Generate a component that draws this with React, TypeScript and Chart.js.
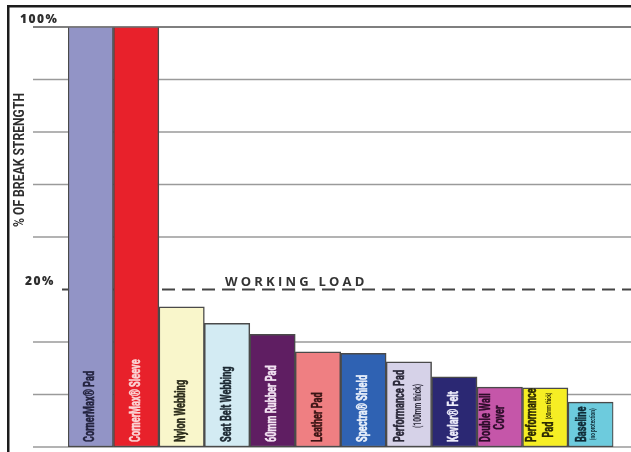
import React, { useEffect, useRef } from "react";
import { Chart, registerables } from "chart.js";

Chart.register(...registerables);

// ---- data ----
const barLabels: string[][] = [
  ["CornerMax® Pad"],
  ["CornerMax® Sleeve"],
  ["Nylon Webbing"],
  ["Seat Belt Webbing"],
  ["60mm Rubber Pad"],
  ["Leather Pad"],
  ["Spectra® Shield"],
  ["Performance Pad", "(100mm thick)"],
  ["Kevlar® Felt"],
  ["Double Wall", "Cover"],
  ["Performance", "Pad (60mm thick)"],
  ["Baseline", "(no protection)"],
];
const categories = barLabels.map((l) => l.join(" "));

// % of break strength (the axis is broken above 20%; 100% bars run to the top)
const breakStrengthPct = [100, 100, 17.8, 15.7, 14.3, 12.1, 11.9, 10.8, 8.9, 7.6, 7.5, 5.7];

// axis: lower part linear (20% at the 3rd line), top line stands for 100%
const gridLevels = [0, 6.667, 13.333, 20, 26.667, 33.333, 40, 46.667, 53.333];
const axisTop = 53.333;
const workingLoadPct = 20;
const tickLabels = [
  { value: 53.333, text: "100%" },
  { value: 20, text: "20%" },
];
const yTitle = "% OF BREAK STRENGTH";
const workingLoadText = "WORKING LOAD";

// ---- styles ----
const barColors = [
  "#9294c6", "#e8212b", "#f9f6cb", "#d3ebf3", "#5f1e62", "#ef7f82",
  "#2f62b3", "#d6d2e8", "#2b2873", "#c556a9", "#f6ee24", "#6dcbdd",
];
const labelColors = [
  "#23233f", "#fbd5d5", "#2b2b1a", "#1d2a33", "#f3e3f3", "#3a1414",
  "#e9f0fb", "#2a2838", "#ecebfa", "#2d0c2a", "#2c2a05", "#0f2a35",
];
const noteFontPx = [9, 9, 9, 9, 9, 9, 9, 10.5, 9, 9, 7, 7.5];
const labelLineGap = [14, 14, 14, 14, 14, 14, 14, 18, 14, 14, 17, 11];
const labelShift = [0, 0, 0, 0, 0, 0, 0, 0, 0, -6, -4, -3];
const LABEL_PX = 14.5;
const LABEL_SX = 0.633;

function segmentsOf(line: string) {
  const idx = line.indexOf("(");
  if (idx < 0) return [{ text: line, small: false }];
  const segs: { text: string; small: boolean }[] = [];
  if (idx > 0) segs.push({ text: line.slice(0, idx), small: false });
  segs.push({ text: line.slice(idx), small: true });
  return segs;
}

const decorPlugin = {
  id: "decor",
  beforeDatasetsDraw(chart: any) {
    const { ctx, width } = chart;
    const y = chart.scales.y;
    ctx.save();
    ctx.strokeStyle = "#9a9a9a";
    ctx.lineWidth = 1.6;
    for (const v of gridLevels) {
      if (Math.abs(v - workingLoadPct) < 0.01) continue;
      const py = y.getPixelForValue(v);
      ctx.beginPath();
      ctx.moveTo(33, py);
      ctx.lineTo(width, py);
      ctx.stroke();
    }
    // working load dashed line
    const wy = y.getPixelForValue(workingLoadPct);
    ctx.strokeStyle = "#444444";
    ctx.lineWidth = 1.8;
    ctx.setLineDash([13, 7]);
    ctx.beginPath();
    ctx.moveTo(62, wy);
    ctx.lineTo(width, wy);
    ctx.stroke();
    ctx.setLineDash([]);
    ctx.fillStyle = "#333333";
    ctx.font = "bold 13px 'Open Sans'";
    (ctx as any).letterSpacing = "3.2px";
    ctx.textBaseline = "alphabetic";
    ctx.textAlign = "left";
    ctx.fillText(workingLoadText, 225, wy - 3);
    (ctx as any).letterSpacing = "0px";
    ctx.restore();
  },
  afterDatasetsDraw(chart: any) {
    const { ctx } = chart;
    const y = chart.scales.y;
    const meta = chart.getDatasetMeta(0);
    // top line over bars
    ctx.save();
    ctx.strokeStyle = "#6e6e6e";
    ctx.lineWidth = 1.6;
    const ty = y.getPixelForValue(axisTop);
    ctx.beginPath();
    ctx.moveTo(33, ty);
    ctx.lineTo(chart.width, ty);
    ctx.stroke();
    ctx.restore();

    meta.data.forEach((el: any, i: number) => {
      const { x, base } = el.getProps(["x", "base"], true);
      const lines = barLabels[i];
      const n = lines.length;
      const gap = labelLineGap[i];
      ctx.save();
      ctx.translate(x + labelShift[i], base - 5);
      ctx.rotate(-Math.PI / 2);
      ctx.scale(LABEL_SX, 1);
      ctx.fillStyle = labelColors[i];
      ctx.strokeStyle = labelColors[i];
      ctx.lineWidth = 0.5;
      ctx.lineJoin = "round";
      ctx.textBaseline = "middle";
      ctx.textAlign = "left";
      const fontFor = (small: boolean) =>
        `bold ${small ? noteFontPx[i] : LABEL_PX}px Roboto`;
      const widths = lines.map((ln) =>
        segmentsOf(ln).reduce((s, sg) => {
          ctx.font = fontFor(sg.small);
          return s + ctx.measureText(sg.text).width;
        }, 0)
      );
      lines.forEach((ln, k) => {
        const off = (k - (n - 1) / 2) * gap;
        let sx = k === 0 ? 0 : Math.max(0, (widths[0] - widths[k]) / 2);
        for (const sg of segmentsOf(ln)) {
          ctx.font = fontFor(sg.small);
          ctx.fillText(sg.text, sx, off);
          if (!sg.small) ctx.strokeText(sg.text, sx, off);
          sx += ctx.measureText(sg.text).width;
        }
      });
      ctx.restore();
    });
  },
  afterDraw(chart: any) {
    const { ctx, width, height } = chart;
    const y = chart.scales.y;
    ctx.save();
    // frame
    ctx.fillStyle = "#1c1c1c";
    ctx.fillRect(7, 5, 2.5, height - 5);
    ctx.fillRect(7, 5, width - 7, 2.5);
    // tick labels
    ctx.fillStyle = "#2e2e2e";
    ctx.font = "800 12px 'Open Sans'";
    (ctx as any).letterSpacing = "1.5px";
    ctx.textBaseline = "alphabetic";
    ctx.textAlign = "left";
    for (const t of tickLabels) {
      const py = y.getPixelForValue(t.value);
      const lx = t.text === "100%" ? 20 : 25;
      ctx.fillText(t.text, lx, py - 4);
    }
    (ctx as any).letterSpacing = "0px";
    // y title
    ctx.font = "bold 14px Roboto";
    const w = ctx.measureText(yTitle).width;
    const sx = 134 / w;
    ctx.translate(20, 160);
    ctx.rotate(-Math.PI / 2);
    ctx.scale(sx, 1);
    ctx.textAlign = "center";
    ctx.textBaseline = "middle";
    ctx.fillStyle = "#2e2e2e";
    ctx.fillText(yTitle, 0, 0);
    ctx.restore();
  },
};

export default function App() {
  const ref = useRef<HTMLCanvasElement | null>(null);
  useEffect(() => {
    if (!ref.current) return;
    const chart = new Chart(ref.current, {
      type: "bar",
      data: {
        labels: categories,
        datasets: [
          {
            data: breakStrengthPct,
            backgroundColor: barColors,
            borderColor: "#4a4a4a",
            borderWidth: 1.5,
            borderSkipped: false,
            barPercentage: 1,
            categoryPercentage: 1,
            clip: 0,
          } as any,
        ],
      },
      options: {
        responsive: false,
        maintainAspectRatio: false,
        animation: false,
        layout: { padding: { left: 68, right: 17.6, top: 27, bottom: 5 } },
        plugins: { legend: { display: false }, tooltip: { enabled: false } },
        scales: {
          x: { display: false },
          y: { display: false, min: 0, max: axisTop },
        },
      },
      plugins: [decorPlugin],
    });
    return () => chart.destroy();
  }, []);
  return (
    <div
      style={{
        position: "fixed",
        left: 0,
        top: 0,
        width: 631,
        height: 452,
        background: "#ffffff",
        overflow: "hidden",
      }}
    >
      <canvas ref={ref} width={631} height={452} style={{ width: 631, height: 452 }} />
    </div>
  );
}
